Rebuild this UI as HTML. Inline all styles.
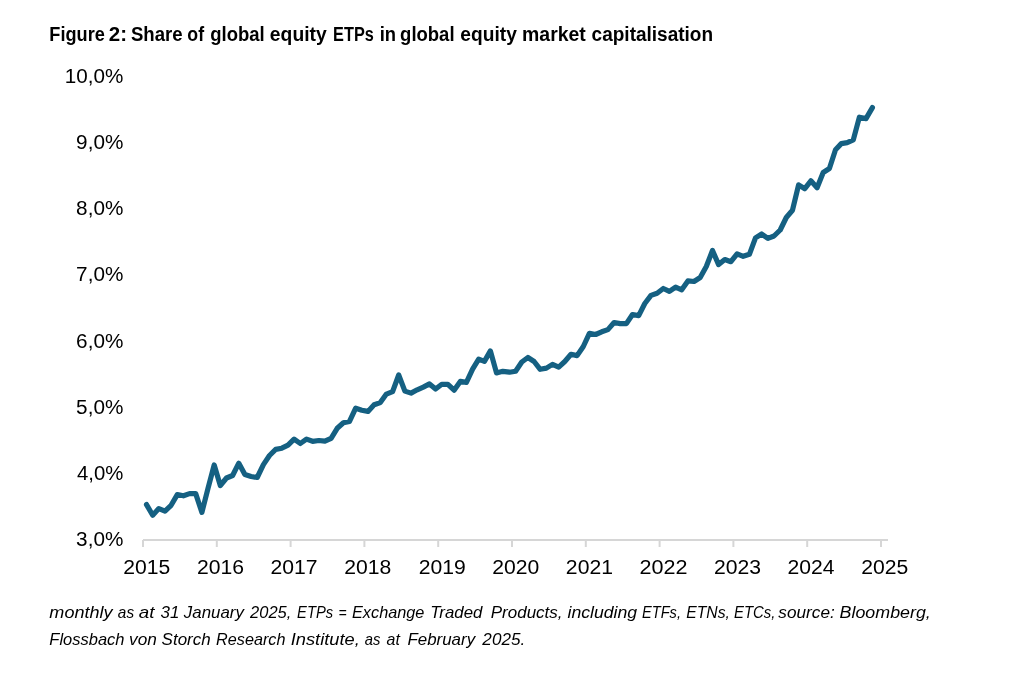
<!DOCTYPE html>
<html><head><meta charset="utf-8"><title>Figure 2</title>
<style>
html,body{margin:0;padding:0;background:#fff;}
body{width:1014px;height:681px;overflow:hidden;position:relative;font-family:"Liberation Sans",sans-serif;}
svg{position:absolute;left:0;top:0;will-change:transform;}
text{font-family:"Liberation Sans",sans-serif;fill:#000;}
.ax{font-size:19.4px;}
.title{font-size:19.4px;font-weight:bold;}
.foot{font-size:15.9px;font-style:italic;}
</style></head><body>
<svg width="1014" height="681" viewBox="0 0 1014 681">
<rect width="1014" height="681" fill="#fff"/>
<rect x="143" y="539" width="745" height="2" fill="#d6d6d6"/>
<rect x="142.0" y="540" width="2" height="7" fill="#d6d6d6"/><rect x="215.8" y="540" width="2" height="7" fill="#d6d6d6"/><rect x="289.6" y="540" width="2" height="7" fill="#d6d6d6"/><rect x="363.4" y="540" width="2" height="7" fill="#d6d6d6"/><rect x="437.2" y="540" width="2" height="7" fill="#d6d6d6"/><rect x="511.0" y="540" width="2" height="7" fill="#d6d6d6"/><rect x="584.8" y="540" width="2" height="7" fill="#d6d6d6"/><rect x="658.6" y="540" width="2" height="7" fill="#d6d6d6"/><rect x="732.4" y="540" width="2" height="7" fill="#d6d6d6"/><rect x="806.2" y="540" width="2" height="7" fill="#d6d6d6"/><rect x="880.0" y="540" width="2" height="7" fill="#d6d6d6"/>
<polyline points="146.5,504.6 152.7,515.2 158.8,508.6 165.0,511.2 171.1,505.3 177.3,494.6 183.4,495.8 189.6,493.6 195.7,493.6 201.9,512.4 208.0,488.3 214.2,465.0 220.3,485.5 226.5,478.0 232.6,475.5 238.8,463.2 244.9,474.6 251.1,476.5 257.2,477.5 263.4,464.6 269.5,455.5 275.7,449.4 281.8,448.2 288.0,445.2 294.1,439.1 300.3,443.5 306.5,439.1 312.6,441.3 318.8,440.5 324.9,441.2 331.1,438.3 337.2,428.3 343.4,422.8 349.5,421.4 355.7,408.2 361.8,410.2 368.0,411.4 374.1,404.8 380.3,402.6 386.4,394.1 392.6,391.6 398.7,375.0 404.9,391.1 411.0,393.1 417.2,389.8 423.3,387.1 429.5,383.9 435.6,389.0 441.8,384.3 447.9,384.3 454.1,390.2 460.3,381.4 466.4,382.4 472.6,369.2 478.7,359.1 484.4,361.4 490.4,350.9 496.5,372.9 502.8,371.3 509.5,372.2 515.6,371.2 521.8,362.0 527.9,357.5 534.1,361.5 540.2,369.3 546.4,368.1 552.5,364.4 558.7,367.1 564.8,361.5 571.0,354.3 577.1,355.6 583.3,346.5 589.4,333.3 595.6,334.5 601.7,331.8 607.9,329.6 614.1,322.5 620.2,323.6 626.4,323.6 632.5,314.5 638.7,315.6 644.8,303.5 651.0,295.4 657.1,293.2 663.3,288.5 669.4,291.4 675.6,287.2 681.7,289.8 687.9,280.9 694.0,281.5 700.2,277.5 706.3,266.5 712.5,250.5 718.6,264.6 724.8,259.5 730.9,261.7 737.1,253.8 743.2,256.3 749.4,254.3 755.5,237.9 761.7,234.0 767.9,238.4 774.0,236.0 780.2,230.0 786.3,217.5 792.5,210.2 798.6,184.9 804.8,188.7 810.9,180.8 817.1,187.7 823.2,172.5 829.4,168.5 835.5,149.7 841.3,143.6 847.2,142.6 853.3,139.9 859.4,117.2 866.0,118.6 872.4,107.6" fill="none" stroke="#156082" stroke-width="5.2" stroke-linejoin="round" stroke-linecap="round"/>
<text x="49.36" y="41.0" class="title" textLength="55.47" lengthAdjust="spacingAndGlyphs">Figure</text>
<text x="108.72" y="41.0" class="title" textLength="18.25" lengthAdjust="spacingAndGlyphs">2:</text>
<text x="130.98" y="41.0" class="title" textLength="51.66" lengthAdjust="spacingAndGlyphs">Share</text>
<text x="187.36" y="41.0" class="title" textLength="16.73" lengthAdjust="spacingAndGlyphs">of</text>
<text x="210.24" y="41.0" class="title" textLength="54.40" lengthAdjust="spacingAndGlyphs">global</text>
<text x="269.86" y="41.0" class="title" textLength="56.84" lengthAdjust="spacingAndGlyphs">equity</text>
<text x="333.10" y="41.0" class="title" textLength="40.75" lengthAdjust="spacingAndGlyphs">ETPs</text>
<text x="379.72" y="41.0" class="title" textLength="16.34" lengthAdjust="spacingAndGlyphs">in</text>
<text x="400.10" y="41.0" class="title" textLength="54.42" lengthAdjust="spacingAndGlyphs">global</text>
<text x="460.36" y="41.0" class="title" textLength="56.46" lengthAdjust="spacingAndGlyphs">equity</text>
<text x="522.10" y="41.0" class="title" textLength="63.71" lengthAdjust="spacingAndGlyphs">market</text>
<text x="591.60" y="41.0" class="title" textLength="121.51" lengthAdjust="spacingAndGlyphs">capitalisation</text>
<text x="49.36" y="618.0" class="foot" textLength="63.14" lengthAdjust="spacingAndGlyphs">monthly</text>
<text x="117.86" y="618.0" class="foot" textLength="16.26" lengthAdjust="spacingAndGlyphs">as</text>
<text x="138.86" y="618.0" class="foot" textLength="15.64" lengthAdjust="spacingAndGlyphs">at</text>
<text x="160.62" y="618.0" class="foot" textLength="18.85" lengthAdjust="spacingAndGlyphs">31</text>
<text x="183.88" y="618.0" class="foot" textLength="59.94" lengthAdjust="spacingAndGlyphs">January</text>
<text x="250.14" y="618.0" class="foot" textLength="41.21" lengthAdjust="spacingAndGlyphs">2025,</text>
<text x="297.12" y="618.0" class="foot" textLength="36.00" lengthAdjust="spacingAndGlyphs">ETPs</text>
<text x="338.48" y="618.0" class="foot" textLength="8.16" lengthAdjust="spacingAndGlyphs">=</text>
<text x="352.00" y="618.0" class="foot" textLength="72.41" lengthAdjust="spacingAndGlyphs">Exchange</text>
<text x="430.34" y="618.0" class="foot" textLength="52.09" lengthAdjust="spacingAndGlyphs">Traded</text>
<text x="490.74" y="618.0" class="foot" textLength="71.80" lengthAdjust="spacingAndGlyphs">Products,</text>
<text x="567.50" y="618.0" class="foot" textLength="69.69" lengthAdjust="spacingAndGlyphs">including</text>
<text x="641.98" y="618.0" class="foot" textLength="38.97" lengthAdjust="spacingAndGlyphs">ETFs,</text>
<text x="686.24" y="618.0" class="foot" textLength="43.67" lengthAdjust="spacingAndGlyphs">ETNs,</text>
<text x="734.00" y="618.0" class="foot" textLength="41.41" lengthAdjust="spacingAndGlyphs">ETCs,</text>
<text x="778.36" y="618.0" class="foot" textLength="56.44" lengthAdjust="spacingAndGlyphs">source:</text>
<text x="839.60" y="618.0" class="foot" textLength="91.19" lengthAdjust="spacingAndGlyphs">Bloomberg,</text>
<text x="49.36" y="645.0" class="foot" textLength="75.20" lengthAdjust="spacingAndGlyphs">Flossbach</text>
<text x="129.10" y="645.0" class="foot" textLength="27.79" lengthAdjust="spacingAndGlyphs">von</text>
<text x="161.60" y="645.0" class="foot" textLength="49.12" lengthAdjust="spacingAndGlyphs">Storch</text>
<text x="216.12" y="645.0" class="foot" textLength="69.35" lengthAdjust="spacingAndGlyphs">Research</text>
<text x="290.74" y="645.0" class="foot" textLength="69.06" lengthAdjust="spacingAndGlyphs">Institute,</text>
<text x="364.74" y="645.0" class="foot" textLength="15.64" lengthAdjust="spacingAndGlyphs">as</text>
<text x="386.62" y="645.0" class="foot" textLength="13.28" lengthAdjust="spacingAndGlyphs">at</text>
<text x="407.48" y="645.0" class="foot" textLength="67.64" lengthAdjust="spacingAndGlyphs">February</text>
<text x="482.38" y="645.0" class="foot" textLength="42.75" lengthAdjust="spacingAndGlyphs">2025.</text>
<text x="123.33" y="574.2" class="ax" textLength="47.01" lengthAdjust="spacingAndGlyphs">2015</text>
<text x="196.94" y="574.2" class="ax" textLength="47.01" lengthAdjust="spacingAndGlyphs">2016</text>
<text x="270.55" y="574.2" class="ax" textLength="47.03" lengthAdjust="spacingAndGlyphs">2017</text>
<text x="344.16" y="574.2" class="ax" textLength="47.01" lengthAdjust="spacingAndGlyphs">2018</text>
<text x="418.67" y="574.2" class="ax" textLength="47.05" lengthAdjust="spacingAndGlyphs">2019</text>
<text x="492.28" y="574.2" class="ax" textLength="47.01" lengthAdjust="spacingAndGlyphs">2020</text>
<text x="565.88" y="574.2" class="ax" textLength="47.05" lengthAdjust="spacingAndGlyphs">2021</text>
<text x="639.49" y="574.2" class="ax" textLength="47.99" lengthAdjust="spacingAndGlyphs">2022</text>
<text x="714.00" y="574.2" class="ax" textLength="47.07" lengthAdjust="spacingAndGlyphs">2023</text>
<text x="787.61" y="574.2" class="ax" textLength="47.01" lengthAdjust="spacingAndGlyphs">2024</text>
<text x="861.22" y="574.2" class="ax" textLength="47.05" lengthAdjust="spacingAndGlyphs">2025</text>
<text x="64.82" y="83.0" class="ax" textLength="58.53" lengthAdjust="spacingAndGlyphs">10,0%</text>
<text x="76.11" y="149.0" class="ax" textLength="47.24" lengthAdjust="spacingAndGlyphs">9,0%</text>
<text x="76.11" y="215.0" class="ax" textLength="47.24" lengthAdjust="spacingAndGlyphs">8,0%</text>
<text x="76.11" y="281.0" class="ax" textLength="47.24" lengthAdjust="spacingAndGlyphs">7,0%</text>
<text x="76.11" y="348.0" class="ax" textLength="47.24" lengthAdjust="spacingAndGlyphs">6,0%</text>
<text x="76.11" y="414.0" class="ax" textLength="47.24" lengthAdjust="spacingAndGlyphs">5,0%</text>
<text x="77.01" y="480.0" class="ax" textLength="46.30" lengthAdjust="spacingAndGlyphs">4,0%</text>
<text x="76.11" y="546.0" class="ax" textLength="47.24" lengthAdjust="spacingAndGlyphs">3,0%</text>
</svg>
</body></html>
